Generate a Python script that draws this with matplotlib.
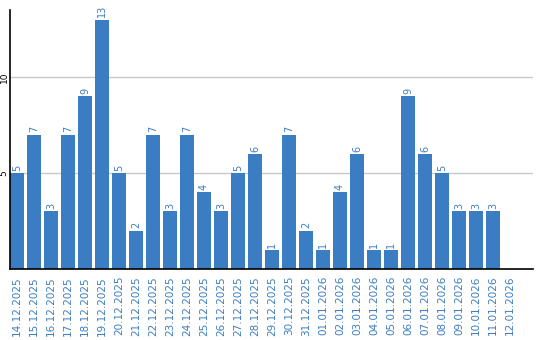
import matplotlib
matplotlib.use("Agg")
import matplotlib.pyplot as plt

dates = ["14.12.2025", "15.12.2025", "16.12.2025", "17.12.2025", "18.12.2025",
         "19.12.2025", "20.12.2025", "21.12.2025", "22.12.2025", "23.12.2025",
         "24.12.2025", "25.12.2025", "26.12.2025", "27.12.2025", "28.12.2025",
         "29.12.2025", "30.12.2025", "31.12.2025", "01.01.2026", "02.01.2026",
         "03.01.2026", "04.01.2026", "05.01.2026", "06.01.2026", "07.01.2026",
         "08.01.2026", "09.01.2026", "10.01.2026", "11.01.2026", "12.01.2026"]
counts = [5, 7, 3, 7, 9, 13, 5, 2, 7, 3, 7, 4, 3, 5, 6,
          1, 7, 2, 1, 4, 6, 1, 1, 9, 6, 5, 3, 3, 3, 0]

blue = "#3b7dc3"

fig = plt.figure(figsize=(5.4, 3.4), dpi=100)
ax = fig.add_axes([10 / 540, 71 / 340, 523 / 540, 259 / 340])

x = list(range(len(dates)))
ax.bar(x, counts, width=0.82, color=blue, zorder=2)

for i, v in enumerate(counts):
    if v > 0:
        ax.text(i, v + 0.12, str(v), rotation=90, ha="center", va="bottom",
                color=blue, fontsize=7)

ax.set_xlim(-0.41, 30.35)
ax.set_ylim(0, 13.5)
ax.set_xticks(x)
ax.set_xticklabels(dates, rotation=90, color=blue, fontsize=7.5)
ax.set_yticks([5, 10])
ax.set_yticklabels(["5", "10"], rotation=90, fontsize=6.5, va="center")
ax.tick_params(axis="both", length=0)
ax.tick_params(axis="x", pad=5)
ax.tick_params(axis="y", pad=1)

ax.yaxis.grid(True, color="#c8c8c8", linewidth=1, zorder=1)
for s in ["top", "right"]:
    ax.spines[s].set_visible(False)
ax.spines["left"].set_color("black")
ax.spines["bottom"].set_color("black")
ax.spines["left"].set_linewidth(1.2)
ax.spines["bottom"].set_linewidth(1.2)

fig.savefig("out.png", dpi=100)
